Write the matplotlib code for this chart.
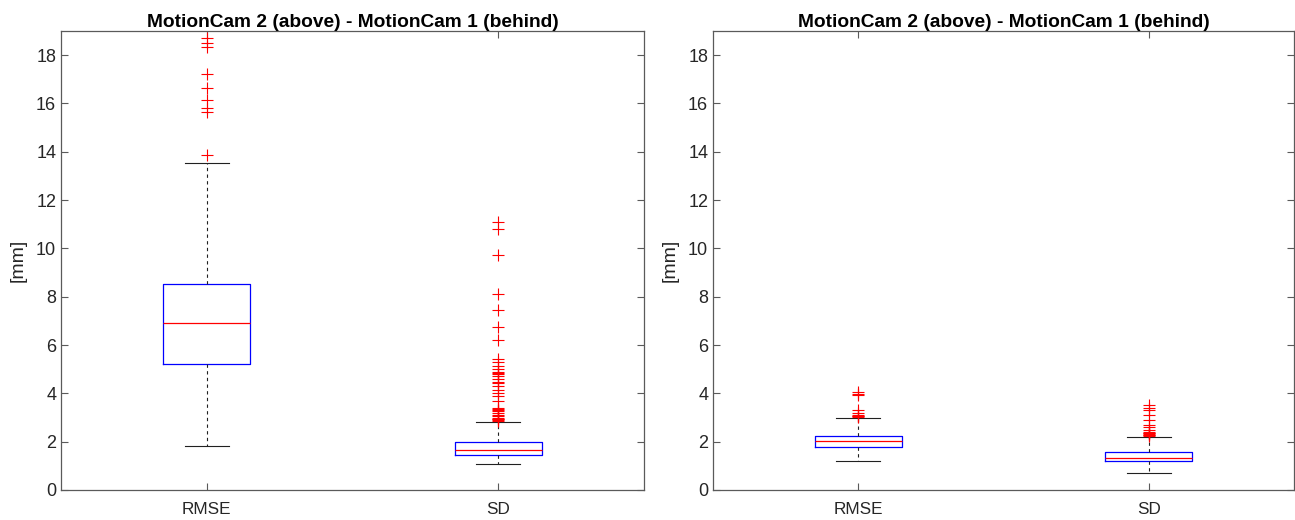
import matplotlib
matplotlib.use("Agg")
import matplotlib.pyplot as plt

plt.rcParams['font.family'] = ['Liberation Sans', 'DejaVu Sans']

categories = ['RMSE', 'SD']
title_text = 'MotionCam 2 (above) - MotionCam 1 (behind)'
ylabel_text = '[mm]'
yticks = [0, 2, 4, 6, 8, 10, 12, 14, 16, 18]

# Left panel statistics
left_q1 = [5.20, 1.43]
left_med = [6.93, 1.66]
left_q3 = [8.53, 1.98]
left_whislo = [1.84, 1.06]
left_whishi = [13.55, 2.81]
left_out_rmse = [18.72, 18.50, 18.35, 17.22, 16.62, 16.15, 15.82, 15.65, 13.85]
left_out_sd = [11.11, 10.81, 9.73, 8.13, 7.45, 6.76, 6.21, 5.43, 5.29, 5.13,
               4.99, 4.87, 4.84, 4.80, 4.72, 4.60, 4.45, 4.42, 4.30, 4.16,
               4.02, 3.88, 3.67, 3.40, 3.35, 3.30, 3.25, 3.20, 3.10, 3.05,
               3.00, 2.95, 2.92, 2.88, 2.85]

# Right panel statistics
right_q1 = [1.77, 1.18]
right_med = [2.01, 1.34]
right_q3 = [2.24, 1.57]
right_whislo = [1.18, 0.72]
right_whishi = [2.98, 2.20]
right_out_rmse = [4.05, 3.98, 3.94, 3.30, 3.20, 3.12, 3.08, 3.05, 3.02]
right_out_sd = [3.50, 3.40, 3.30, 3.12, 2.88, 2.70, 2.61, 2.49, 2.42, 2.38,
                2.34, 2.31, 2.29, 2.27, 2.25]

W, H = 1295, 520
fig = plt.figure(figsize=(W / 100, H / 100), dpi=100)

def make_stats(q1, med, q3, lo, hi, outs):
    stats = []
    for i in range(len(categories)):
        stats.append(dict(label=categories[i], q1=q1[i], med=med[i], q3=q3[i],
                          whislo=lo[i], whishi=hi[i], fliers=outs[i]))
    return stats

spine_col = '#5a5a5a'
text_col = '#262626'

def draw(ax, stats):
    ax.bxp(stats, positions=[1, 2], widths=0.3, showfliers=True,
           boxprops=dict(color='#0000ff', linewidth=0.9),
           medianprops=dict(color='#ff0000', linewidth=0.9),
           whiskerprops=dict(color='#202020', linewidth=0.8, linestyle=(0, (3, 3))),
           capprops=dict(color='#202020', linewidth=0.8),
           capwidths=0.15,
           flierprops=dict(marker='+', markeredgecolor='#ff0000', markersize=8,
                           markeredgewidth=0.8, linestyle='none'))
    ax.set_xlim(0.5, 2.5)
    ax.set_ylim(0, 19)
    ax.set_yticks(yticks)
    ax.set_xticks([1, 2])
    ax.set_xticklabels(categories)
    ax.tick_params(direction='in', top=True, right=True, length=5,
                   color=spine_col, labelcolor=text_col, labelsize=13, width=0.8)
    ax.tick_params(axis='x', labelsize=12.3, pad=9)
    for s in ax.spines.values():
        s.set_color(spine_col)
        s.set_linewidth(0.9)
    ax.set_title(title_text, fontsize=13.8, fontweight='bold', color='black', pad=3)
    ax.set_ylabel(ylabel_text, fontsize=14, color=text_col, labelpad=7)

ax1 = fig.add_axes([61 / W, 30 / H, 583 / W, 459 / H])
draw(ax1, make_stats(left_q1, left_med, left_q3, left_whislo, left_whishi,
                     [left_out_rmse, left_out_sd]))
ax2 = fig.add_axes([713 / W, 30 / H, 581 / W, 459 / H])
draw(ax2, make_stats(right_q1, right_med, right_q3, right_whislo, right_whishi,
                     [right_out_rmse, right_out_sd]))

fig.savefig('out.png', dpi=100, facecolor='white')
